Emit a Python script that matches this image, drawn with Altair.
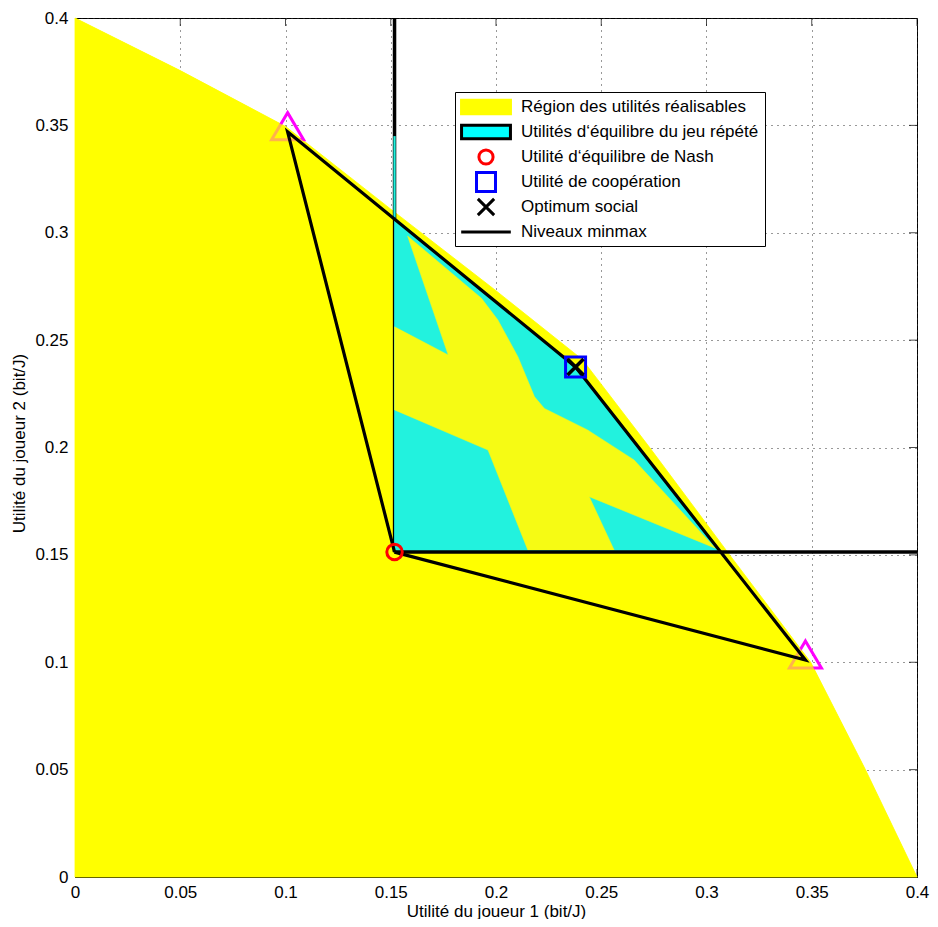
import altair as alt
import pandas as pd

W, H = 842, 859
FONT = "Liberation Sans"

# ---------------- data (utilité joueur 1, utilité joueur 2) ----------------
tick_vals = [0, 0.05, 0.1, 0.15, 0.2, 0.25, 0.3, 0.35, 0.4]

# feasible utility region
feas_x = [0.0, 0.0, 0.05, 0.1, 0.15, 0.2, 0.241, 0.273, 0.311, 0.3495, 0.3755, 0.4, 0.0]
feas_y = [0.0, 0.4, 0.3755, 0.3495, 0.311, 0.273, 0.241, 0.2, 0.15, 0.1, 0.05, 0.0, 0.0]

# feasible region outside the repeated-game equilibrium set
fade_x = [0.0, 0.0, 0.05, 0.1, 0.1508, 0.1508, 0.309, 0.3495, 0.3755, 0.4, 0.0]
fade_y = [0.0, 0.4, 0.3755, 0.3495, 0.309, 0.1513, 0.1513, 0.1, 0.05, 0.0, 0.0]

# repeated-game equilibrium utilities (cyan)
eq_x = [0.1518, 0.1518, 0.2378, 0.307, 0.1518]
eq_y = [0.1513, 0.307, 0.2375, 0.1513, 0.1513]

# yellow patch inside the cyan set
patch_x = [0.158, 0.1931, 0.2009, 0.2104, 0.2183, 0.2230, 0.2435, 0.2656, 0.3042,
           0.2443, 0.2561, 0.2151, 0.1962, 0.1518, 0.1518, 0.1773, 0.158]
patch_y = [0.2985, 0.2695, 0.2594, 0.2423, 0.2236, 0.2182, 0.2082, 0.1942, 0.1531,
           0.1771, 0.1523, 0.1523, 0.1988, 0.2175, 0.2562, 0.2431, 0.2985]

# convex hull of pure strategy utilities
hull_x = [0.1518, 0.101, 0.2378, 0.347, 0.1518]
hull_y = [0.1513, 0.347, 0.2375, 0.101, 0.1513]

# minmax levels
minmax_1 = 0.1518
minmax_2 = 0.1513
axis_max = 0.4
strip_top = 0.345
strip_bottom = 0.307

nash = (0.1518, 0.1513)
coop = (0.2378, 0.2375)
social = (0.2378, 0.2375)
tri_x = [0.101, 0.347]
tri_y = [0.347, 0.101]

legend_names = [
    "Région des utilités réalisables",
    "Utilités d‘équilibre du jeu répété",
    "Utilité d‘équilibre de Nash",
    "Utilité de coopération",
    "Optimum social",
    "Niveaux minmax",
]
legend_fill = ["#FFFF00", "#00FFFF", "transparent", "transparent", "transparent", "transparent"]
legend_stroke = ["#FFFF00", "#000000", "#FF0000", "#0000FF", "#000000", "#000000"]
legend_shape = [
    "M-3.45,-0.95H3.45V0.95H-3.45Z",
    "M-3.45,-0.95H3.45V0.95H-3.45Z",
    "circle",
    "M-1.34,-1.34H1.34V1.34H-1.34Z",
    "M-1.15,-1.15L1.15,1.15M1.15,-1.15L-1.15,1.15",
    "M-3.5,0H3.5",
]


def poly(xs, ys):
    return pd.DataFrame({"x": xs, "y": ys, "i": list(range(len(xs)))})


xaxis = alt.Axis(values=tick_vals, format="~g", grid=True, gridDash=[1, 5], gridColor="#333333",
                 gridOpacity=1, ticks=False, domainColor="black", labelColor="black",
                 labelFont=FONT, labelFontSize=17, labelPadding=7, labelFlush=False,
                 labelOverlap=False, titleFont=FONT, titleFontSize=17, titleFontWeight="normal",
                 titleColor="black", titleY=26)
yaxis = alt.Axis(values=tick_vals, format="~g", grid=True, gridDash=[1, 5], gridColor="#333333",
                 gridOpacity=1, ticks=False, domainColor="black", labelColor="black",
                 labelFont=FONT, labelFontSize=17, labelPadding=7, labelFlush=False,
                 labelOverlap=False, titleFont=FONT, titleFontSize=17, titleFontWeight="normal",
                 titleColor="black", titleX=-47, titleY=425)
xs = alt.Scale(domain=[0, 0.4], nice=False, zero=False)
ys = alt.Scale(domain=[0, 0.4], nice=False, zero=False)
XT = "Utilité du joueur 1 (bit/J)"
YT = "Utilité du joueur 2 (bit/J)"


def X(f="x"):
    return alt.X(f"{f}:Q", scale=xs, axis=xaxis, title=XT)


def Y(f="y"):
    return alt.Y(f"{f}:Q", scale=ys, axis=yaxis, title=YT)


def polygon(xs_, ys_, fill, opacity=1.0, sw=0.8):
    return alt.Chart(poly(xs_, ys_)).mark_line(
        fill=fill, stroke=fill, strokeWidth=sw, opacity=opacity, fillOpacity=1
    ).encode(x=X(), y=Y(), order="i:Q")


tdf = pd.DataFrame({"x": tick_vals, "y": tick_vals})
ticks_top = alt.Chart(tdf).mark_tick(clip=True, size=16, thickness=1, color="black").encode(
    x=X(), y=alt.value(0))
ticks_bot = alt.Chart(tdf).mark_tick(clip=True, size=16, thickness=1, color="black").encode(
    x=X(), y=alt.value(H))
ticks_left = alt.Chart(tdf).mark_tick(clip=True, size=16, thickness=1, color="black").encode(
    y=Y(), x=alt.value(0))
ticks_right = alt.Chart(tdf).mark_tick(clip=True, size=16, thickness=1, color="black").encode(
    y=Y(), x=alt.value(W))

feasible = polygon(feas_x, feas_y, "#FFFF00")
equil = polygon(eq_x, eq_y, "#22F2DE")
patch = polygon(patch_x, patch_y, "#F6FB14", sw=0.5)

tri = alt.Chart(pd.DataFrame({"x": tri_x, "y": tri_y})).mark_point(
    shape="M0,-1.2L1,0.5L-1,0.5Z", size=1024, stroke="#FF00FF", strokeWidth=3,
    filled=False, opacity=1).encode(x=X(), y=Y())

fade = polygon(fade_x, fade_y, "#FFFF00", opacity=0.7, sw=0)

vline = alt.Chart(pd.DataFrame({"x": [minmax_1], "y": [minmax_2], "y2": [axis_max]})).mark_rule(
    color="black", strokeWidth=3.5).encode(x=X(), y=Y(), y2="y2:Q")
hline = alt.Chart(pd.DataFrame({"x": [minmax_1], "x2": [axis_max], "y": [minmax_2]})).mark_rule(
    color="black", strokeWidth=3.5).encode(x=X(), x2="x2:Q", y=Y())
strip = alt.Chart(pd.DataFrame({"x": [minmax_1], "y": [strip_bottom], "y2": [strip_top]})).mark_rule(
    color="#22F2DE", strokeWidth=2.2).encode(x=X(), y=Y(), y2="y2:Q")

hull = alt.Chart(poly(hull_x, hull_y)).mark_line(color="black", strokeWidth=3.2).encode(
    x=X(), y=Y(), order="i:Q")

nash_pt = alt.Chart(pd.DataFrame({"x": [nash[0]], "y": [nash[1]]})).mark_point(
    shape="circle", size=240, stroke="#FF0000", strokeWidth=3, filled=False, opacity=1).encode(
    x=X(), y=Y())
coop_pt = alt.Chart(pd.DataFrame({"x": [coop[0]], "y": [coop[1]]})).mark_point(
    shape="square", size=400, stroke="#0000FF", strokeWidth=3, filled=False, opacity=1).encode(
    x=X(), y=Y())
social_pt = alt.Chart(pd.DataFrame({"x": [social[0]], "y": [social[1]]})).mark_point(
    shape="M-1,-1L1,1M1,-1L-1,1", size=256, stroke="#000000", strokeWidth=3.5, filled=False,
    opacity=1).encode(x=X(), y=Y())

leg = alt.Legend(title=None, orient="none", legendX=380, legendY=74, padding=6,
                 strokeColor="black", fillColor="white", labelFont=FONT, labelFontSize=17,
                 labelColor="black", labelLimit=400, symbolSize=201, symbolStrokeWidth=3,
                 symbolOpacity=1, symbolOffset=16, labelOffset=26, rowPadding=-9,
                 gridAlign="all", cornerRadius=0)
leg_df = pd.DataFrame({"x": [nash[0]] * 6, "y": [nash[1]] * 6, "series": legend_names})
legend_layer = alt.Chart(leg_df).mark_point(opacity=0).encode(
    x=X(), y=Y(),
    fill=alt.Fill("series:N", scale=alt.Scale(domain=legend_names, range=legend_fill), legend=leg),
    stroke=alt.Stroke("series:N", scale=alt.Scale(domain=legend_names, range=legend_stroke), legend=leg),
    shape=alt.Shape("series:N", scale=alt.Scale(domain=legend_names, range=legend_shape), legend=leg),
)

chart = alt.layer(
    ticks_top, ticks_bot, ticks_left, ticks_right,
    feasible, vline, equil, patch, tri, fade,
    strip, hline, hull,
    nash_pt, coop_pt, social_pt, legend_layer,
).properties(
    width=W, height=H,
    autosize=alt.AutoSizeParams(type="none"),
    padding={"left": 67, "top": 10, "right": 13, "bottom": 42},
    background="white",
).configure_view(stroke="black", strokeWidth=1)

chart.save("out.html", embed_options={"renderer": "svg", "actions": False})
